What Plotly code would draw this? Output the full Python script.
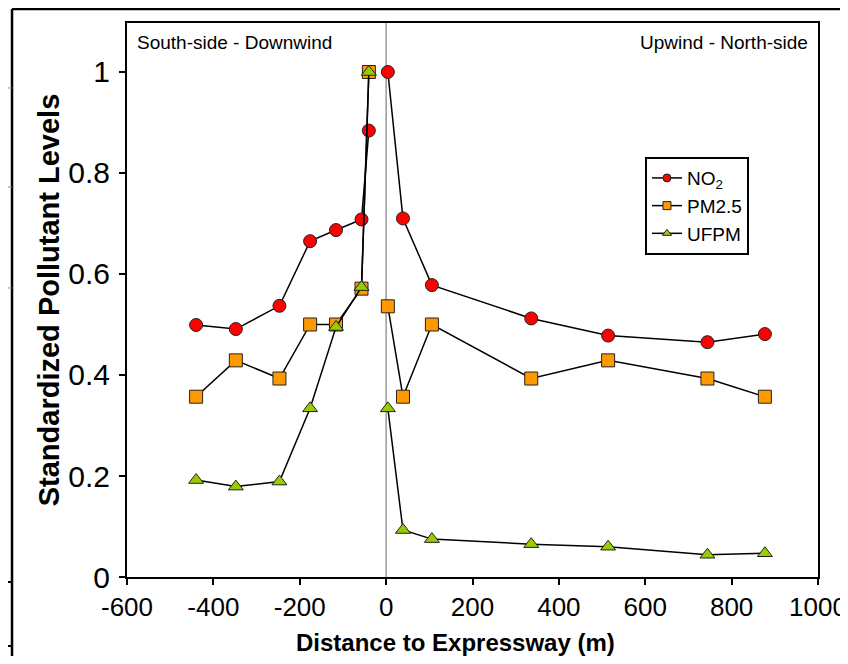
import plotly.graph_objects as go

# ---- data ----
dist_south = [-440, -348, -247, -176, -116, -57, -40]
dist_north = [4, 39, 106, 336, 514, 744, 877]

no2_south = [0.499, 0.491, 0.537, 0.665, 0.687, 0.708, 0.884]
no2_north = [1.0, 0.710, 0.578, 0.512, 0.478, 0.465, 0.481]

pm25_south = [0.357, 0.429, 0.393, 0.500, 0.500, 0.571, 1.0]
pm25_north = [0.536, 0.357, 0.500, 0.393, 0.429, 0.393, 0.357]

ufpm_south = [0.192, 0.179, 0.189, 0.334, 0.495, 0.574, 1.0]
ufpm_north = [0.334, 0.093, 0.075, 0.065, 0.060, 0.044, 0.047]

x_ticks = [-600, -400, -200, 0, 200, 400, 600, 800, 1000]
x_ticklabels = ["-600", "-400", "-200", "0", "200", "400", "600", "800", "1000"]
y_ticks = [0, 0.2, 0.4, 0.6, 0.8, 1]
y_ticklabels = ["0", "0.2", "0.4", "0.6", "0.8", "1"]

series_names = ["NO<sub>2</sub>", "PM2.5", "UFPM"]
series_colors = ["#FF0000", "#FF9900", "#99CC00"]
series_symbols = ["circle", "square", "triangle-up"]

FONT = "Arial, Liberation Sans, sans-serif"

def joined(a, b):
    # south and north sides are not connected across the expressway
    return list(a) + [None] + list(b)

x_all = joined(dist_south, dist_north)
series_values = [
    joined(no2_south, no2_north),
    joined(pm25_south, pm25_north),
    joined(ufpm_south, ufpm_north),
]
marker_sizes = [13, 13, 13]

fig = go.Figure()

for name, vals, col, sym, ms in zip(series_names, series_values, series_colors,
                                    series_symbols, marker_sizes):
    fig.add_trace(go.Scatter(
        x=x_all, y=vals, mode="lines+markers", name=name,
        connectgaps=False, showlegend=False,
        line=dict(color="black", width=1.5),
        marker=dict(symbol=sym, size=ms, color=col,
                    line=dict(color="#222222", width=1)),
    ))

# legend-only entries with small markers, as in the reference
for name, col, sym in zip(series_names, series_colors, series_symbols):
    fig.add_trace(go.Scatter(
        x=[None], y=[None], mode="lines+markers", name=name,
        line=dict(color="black", width=1.5),
        marker=dict(symbol=sym, size=8, color=col,
                    line=dict(color="#222222", width=1)),
    ))

# vertical separator at the expressway
fig.add_shape(type="line", xref="x", yref="paper", x0=0, x1=0, y0=0, y1=1,
              line=dict(color="#999999", width=1.5), layer="below")

# cropped-page remnants around the chart
frame_shapes = [
    dict(x0=-0.1664, x1=1.05, y0=1.0253, y1=1.0253, w=2.5, c="black"),
    dict(x0=-0.1664, x1=-0.1664, y0=1.0253, y1=-0.17, w=2.5, c="black"),
    dict(x0=-0.19, x1=-0.1664, y0=0.8827, y1=0.8827, w=1, c="#888888"),
    dict(x0=-0.19, x1=-0.1664, y0=0.704, y1=0.704, w=1, c="#888888"),
    dict(x0=-0.19, x1=-0.1664, y0=0.5217, y1=0.5217, w=1, c="#888888"),
    dict(x0=-0.19, x1=-0.1664, y0=-0.009, y1=-0.009, w=2, c="black"),
    dict(x0=-0.19, x1=-0.1664, y0=-0.1245, y1=-0.1245, w=2, c="black"),
]
for s in frame_shapes:
    fig.add_shape(type="line", xref="paper", yref="paper",
                  x0=s["x0"], x1=s["x1"], y0=s["y0"], y1=s["y1"],
                  line=dict(color=s["c"], width=s["w"]))

fig.add_annotation(text="South-side - Downwind", xref="paper", yref="paper",
                   x=0.011, y=0.987, xanchor="left", yanchor="top",
                   showarrow=False, font=dict(family=FONT, size=19, color="black"))
fig.add_annotation(text="Upwind - North-side", xref="paper", yref="paper",
                   x=0.988, y=0.987, xanchor="right", yanchor="top",
                   showarrow=False, font=dict(family=FONT, size=19, color="black"))

# x-axis title (sits slightly left of the plot centre in the reference)
fig.add_annotation(text="<b>Distance to Expressway (m)</b>", xref="paper", yref="paper",
                   x=0.4747, y=-0.119, xanchor="center", yanchor="middle",
                   showarrow=False, font=dict(family=FONT, size=24, color="black"))

# the page adds an 8px body margin, so the figure is kept small enough
# to fit the window without scrolling
fig.update_layout(
    width=840, height=648,
    margin=dict(l=119, r=30, t=15, b=79, autoexpand=False),
    plot_bgcolor="white", paper_bgcolor="white",
    font=dict(family=FONT, color="black"),
    legend=dict(x=0.7496, y=0.758, xanchor="left", yanchor="top",
                bgcolor="white", bordercolor="black", borderwidth=2,
                font=dict(family=FONT, size=19, color="black"),
                itemwidth=30, tracegroupgap=0),
    xaxis=dict(range=[-600, 1000], tickvals=x_ticks, ticktext=x_ticklabels,
               ticks="outside", ticklen=6, tickwidth=2, tickcolor="black",
               showline=True, linewidth=2, linecolor="black", mirror=True,
               showgrid=False, zeroline=False, automargin=False,
               tickfont=dict(family=FONT, size=26, color="black")),
    yaxis=dict(range=[0, 1.097], tickvals=y_ticks, ticktext=y_ticklabels,
               ticks="outside", ticklen=6, tickwidth=2, tickcolor="black",
               showline=True, linewidth=2, linecolor="black", mirror=True,
               showgrid=False, zeroline=False, automargin=False,
               ticklabelstandoff=3,
               tickfont=dict(family=FONT, size=30, color="black"),
               title=dict(text="Standardized Pollutant Levels", standoff=0,
                          font=dict(family=FONT, size=29, color="black", weight="bold"))),
)

fig.write_html("out.html")
